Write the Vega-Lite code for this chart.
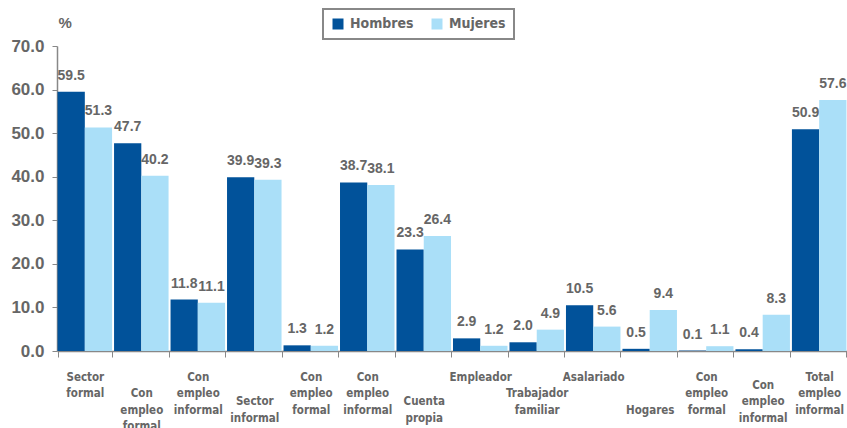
{
  "$schema": "https://vega.github.io/schema/vega-lite/v6.json",
  "width": 790,
  "height": 305,
  "autosize": {"type": "none"},
  "padding": {"left": 57, "top": 46, "right": 0, "bottom": 77},
  "background": "white",
  "config": {
    "view": {"stroke": null},
    "legend": {"strokeWidth": 2}
  },
  "data": {
    "values": [
      {"grupo": "01|Sector formal", "sexo": "Hombres", "valor": 59.5},
      {"grupo": "01|Sector formal", "sexo": "Mujeres", "valor": 51.3},
      {"grupo": "02|Con empleo formal", "sexo": "Hombres", "valor": 47.7},
      {"grupo": "02|Con empleo formal", "sexo": "Mujeres", "valor": 40.2},
      {"grupo": "03|Con empleo informal", "sexo": "Hombres", "valor": 11.8},
      {"grupo": "03|Con empleo informal", "sexo": "Mujeres", "valor": 11.1},
      {"grupo": "04|Sector informal", "sexo": "Hombres", "valor": 39.9},
      {"grupo": "04|Sector informal", "sexo": "Mujeres", "valor": 39.3},
      {"grupo": "05|Con empleo formal", "sexo": "Hombres", "valor": 1.3},
      {"grupo": "05|Con empleo formal", "sexo": "Mujeres", "valor": 1.2},
      {"grupo": "06|Con empleo informal", "sexo": "Hombres", "valor": 38.7},
      {"grupo": "06|Con empleo informal", "sexo": "Mujeres", "valor": 38.1},
      {"grupo": "07|Cuenta propia", "sexo": "Hombres", "valor": 23.3},
      {"grupo": "07|Cuenta propia", "sexo": "Mujeres", "valor": 26.4},
      {"grupo": "08|Empleador", "sexo": "Hombres", "valor": 2.9},
      {"grupo": "08|Empleador", "sexo": "Mujeres", "valor": 1.2},
      {"grupo": "09|Trabajador familiar", "sexo": "Hombres", "valor": 2.0},
      {"grupo": "09|Trabajador familiar", "sexo": "Mujeres", "valor": 4.9},
      {"grupo": "10|Asalariado", "sexo": "Hombres", "valor": 10.5},
      {"grupo": "10|Asalariado", "sexo": "Mujeres", "valor": 5.6},
      {"grupo": "11|Hogares", "sexo": "Hombres", "valor": 0.5},
      {"grupo": "11|Hogares", "sexo": "Mujeres", "valor": 9.4},
      {"grupo": "12|Con empleo formal", "sexo": "Hombres", "valor": 0.1},
      {"grupo": "12|Con empleo formal", "sexo": "Mujeres", "valor": 1.1},
      {"grupo": "13|Con empleo informal", "sexo": "Hombres", "valor": 0.4},
      {"grupo": "13|Con empleo informal", "sexo": "Mujeres", "valor": 8.3},
      {"grupo": "14|Total empleo informal", "sexo": "Hombres", "valor": 50.9},
      {"grupo": "14|Total empleo informal", "sexo": "Mujeres", "valor": 57.6}
    ]
  },
  "encoding": {
    "x": {
      "field": "grupo",
      "type": "nominal",
      "sort": null,
      "scale": {"paddingInner": 0.035, "paddingOuter": 0.01},
      "axis": {
        "title": null,
        "labelAngle": 0,
        "labelExpr": "split((indexof(['02','09'], slice(datum.label, 0, 2)) >= 0 ? '\u200b|\u200b|' : indexof(['04','07'], slice(datum.label, 0, 2)) >= 0 ? '\u200b|\u200b|\u200b|' : slice(datum.label, 0, 2) == '11' ? '\u200b|\u200b|\u200b|\u200b|' : slice(datum.label, 0, 2) == '13' ? '\u200b|' : '') + replace(slice(datum.label, 3), regexp(' ', 'g'), '|\u200b|'), '|')",
        "labelBaseline": "top",
        "labelAlign": "center",
        "labelLineHeight": 8.25,
        "labelFont": "Liberation Sans Narrow, DejaVu Sans Condensed, sans-serif",
        "labelFontSize": 11.5,
        "labelFontWeight": "bold",
        "labelColor": "#666666",
        "labelPadding": 14,
        "labelOverlap": false,
        "ticks": true,
        "tickBand": "extent",
        "tickSize": 6,
        "tickColor": "#888888",
        "domainColor": "#888888",
        "domainWidth": 1.5
      }
    },
    "xOffset": {
      "field": "sexo",
      "sort": ["Hombres", "Mujeres"],
      "scale": {"paddingInner": 0, "paddingOuter": 0}
    },
    "y": {
      "field": "valor",
      "type": "quantitative",
      "scale": {"domain": [0, 70], "nice": false},
      "axis": {
        "title": "%",
        "titleAngle": 0,
        "titleAlign": "left",
        "titleBaseline": "top",
        "titleX": 1,
        "titleY": -31,
        "titleFont": "Liberation Sans, Arial, sans-serif",
        "titleFontSize": 15,
        "titleFontWeight": "bold",
        "titleColor": "#666666",
        "values": [0, 10, 20, 30, 40, 50, 60, 70],
        "format": ".1f",
        "grid": false,
        "labelFont": "Liberation Sans, Arial, sans-serif",
        "labelFontSize": 17,
        "labelFontWeight": "bold",
        "labelColor": "#666666",
        "labelPadding": 8,
        "tickSize": 5,
        "tickColor": "#888888",
        "domainColor": "#888888",
        "domainWidth": 1.5
      }
    }
  },
  "layer": [
    {
      "mark": {"type": "bar"},
      "encoding": {
        "color": {
          "field": "sexo",
          "type": "nominal",
          "scale": {"domain": ["Hombres", "Mujeres"], "range": ["#01529a", "#aadff8"]},
          "legend": {
            "title": null,
            "orient": "none",
            "legendX": 266,
            "legendY": -37,
            "direction": "horizontal",
            "symbolType": "square",
            "symbolSize": 121,
            "symbolStrokeWidth": 0,
            "symbolOpacity": 1,
            "labelFont": "Liberation Sans Narrow, DejaVu Sans Condensed, sans-serif",
            "labelFontSize": 14,
            "labelFontWeight": "bold",
            "labelColor": "#666666",
            "labelOffset": 5,
            "columnPadding": 16,
            "strokeColor": "#888888",
            "fillColor": "white",
            "padding": 8
          }
        }
      }
    },
    {
      "mark": {
        "type": "text",
        "baseline": "bottom",
        "dy": -9,
        "font": "Liberation Sans, Arial, sans-serif",
        "fontSize": 14,
        "fontWeight": "bold",
        "color": "#666666"
      },
      "encoding": {
        "text": {"field": "valor", "type": "quantitative", "format": ".1f"}
      }
    }
  ]
}
